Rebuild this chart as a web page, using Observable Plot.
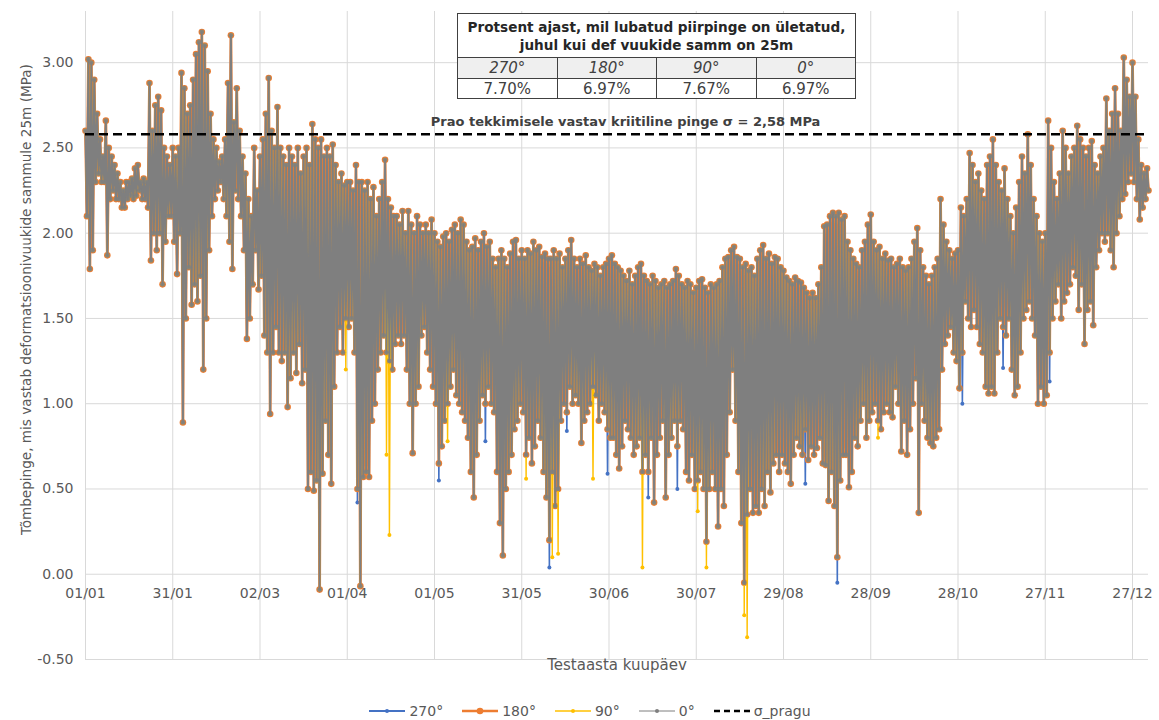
<!DOCTYPE html>
<html><head><meta charset="utf-8">
<script src="https://cdn.jsdelivr.net/npm/d3@7"></script>
<script src="https://cdn.jsdelivr.net/npm/@observablehq/plot@0.6"></script>
<style>
body{margin:0;background:#fff;font-family:"DejaVu Sans",Verdana,sans-serif;}
#wrap{position:relative;width:1159px;height:720px;overflow:hidden;}
#tbl{position:absolute;left:457px;top:13px;width:399px;border-collapse:collapse;color:#262626;background:#fff;}
#tbl td{border:1.5px solid #404040;text-align:center;padding:0;}
#tbl .ttl{font-weight:bold;font-size:13.6px;line-height:18px;height:43px;}
#tbl .hd td{background:#efefef;font-style:italic;font-size:15px;height:20px;line-height:19px;color:#404040;}
#tbl .vl td{font-size:15px;height:19px;line-height:18px;color:#404040;}
#legend{position:absolute;left:0;top:703px;width:1159px;display:flex;justify-content:center;gap:18px;font-size:14px;color:#595959;padding-left:20px;box-sizing:border-box;}
#legend .it{display:flex;align-items:center;gap:3px;}
</style></head><body><div id="wrap"></div><script>
// ---- data ----
const seriesNames = ["270°", "180°", "90°", "0°"];
const tablePct = ["7.70%", "6.97%", "7.67%", "6.97%"];
const tickDays = [0, 30, 60, 90, 120, 150, 180, 210, 240, 270, 300, 330, 360];
const tickLabels = ["01/01","31/01","02/03","01/04","01/05","31/05","30/06","30/07","29/08","28/09","28/10","27/11","27/12"];
const yTicks = [-0.5, 0, 0.5, 1, 1.5, 2, 2.5, 3];
const sigmaCrit = 2.58;
// daily maxima (day 0..365)
const hi = [2.6,3.02,3.0,2.9,2.7,2.55,2.45,2.66,2.5,2.45,2.4,
2.35,2.3,2.25,2.3,2.3,2.32,2.38,2.4,2.3,2.32,
2.3,2.88,2.6,2.75,2.8,2.72,2.5,2.45,2.4,2.5,
2.45,2.5,2.94,2.85,2.7,2.75,2.9,3.05,3.12,3.18,
3.1,2.95,2.7,2.55,2.5,2.42,2.45,2.55,2.88,3.16,
2.65,2.85,2.6,2.45,2.35,2.2,2.1,2.5,2.25,2.45,
2.55,2.7,2.91,2.6,2.5,2.74,2.5,2.45,2.4,2.5,
2.45,2.4,2.5,2.35,2.45,2.5,2.4,2.64,2.55,2.5,
2.55,2.45,2.5,2.45,2.52,2.4,2.3,2.35,2.28,2.3,
2.3,2.25,2.4,2.3,2.3,2.25,2.3,2.2,2.27,2.1,
2.2,2.3,2.43,2.2,2.15,2.1,2.1,2.05,2.13,2.0,
2.13,2.05,2.0,2.1,2.05,2.0,2.05,2.0,2.08,2.0,
1.95,1.92,1.98,2.0,1.95,2.02,2.05,2.0,2.08,2.05,
1.95,1.9,1.92,1.97,1.9,1.95,2.0,1.92,1.95,1.85,
1.8,1.85,1.9,1.85,1.8,1.88,1.95,1.96,1.85,1.9,
1.85,1.9,1.88,1.95,1.9,1.92,1.86,1.88,1.85,1.85,
1.9,1.85,1.88,1.8,1.85,1.9,1.96,1.85,1.8,1.85,
1.82,1.87,1.8,1.78,1.82,1.8,1.75,1.8,1.82,1.85,
1.87,1.82,1.8,1.78,1.75,1.72,1.78,1.7,1.75,1.8,
1.82,1.75,1.72,1.7,1.75,1.72,1.68,1.7,1.72,1.68,
1.7,1.72,1.79,1.75,1.7,1.68,1.72,1.7,1.65,1.68,
1.72,1.73,1.68,1.65,1.7,1.68,1.7,1.72,1.8,1.85,
1.86,1.9,1.92,1.86,1.85,1.8,1.82,1.78,1.8,1.75,
1.85,1.9,1.93,1.85,1.88,1.82,1.86,1.85,1.8,1.78,
1.74,1.72,1.7,1.74,1.72,1.71,1.68,1.65,1.62,1.65,
1.62,1.7,1.8,2.04,2.05,2.1,2.12,2.1,2.12,2.08,
2.1,1.95,1.9,1.85,1.82,1.8,1.9,1.95,2.05,2.11,
1.95,1.9,1.92,1.85,1.88,1.84,1.85,1.8,1.82,1.85,
1.8,1.78,1.8,1.85,1.95,2.03,1.9,1.8,1.75,1.7,
1.75,1.8,1.85,2.2,2.05,1.95,1.9,1.85,1.88,1.9,
2.15,2.1,2.2,2.47,2.4,2.3,2.35,2.25,2.2,2.4,
2.45,2.55,2.4,2.3,2.25,2.38,2.2,2.1,2.0,2.15,
2.3,2.45,2.35,2.58,2.4,2.2,2.1,2.0,1.95,2.0,
2.66,2.5,2.3,2.2,2.35,2.6,2.5,2.35,2.45,2.5,
2.63,2.55,2.5,2.45,2.5,2.54,2.4,2.35,2.45,2.5,
2.79,2.6,2.7,2.85,2.7,2.6,3.03,2.9,2.8,3.0,2.8,2.55,2.4,2.35,2.38];
// daily minima of 0° / 180° (day 0..365)
const lo = [2.1,1.79,1.9,2.3,2.35,2.3,2.3,1.87,2.2,2.25,2.2,
2.2,2.15,2.15,2.2,2.22,2.2,2.22,2.25,2.2,2.2,
2.15,1.84,2.0,1.9,2.0,1.7,1.95,2.1,2.1,1.95,
1.76,2.0,0.89,1.5,1.8,1.58,1.7,1.6,1.75,1.2,
1.5,1.9,2.1,2.2,2.25,2.3,2.2,2.1,1.95,1.79,
2.25,2.2,2.1,1.9,1.38,1.5,1.7,1.9,1.67,1.75,
1.4,1.3,0.94,1.3,1.45,1.3,1.25,1.3,0.98,1.15,
1.3,1.18,1.35,1.12,1.2,0.5,0.6,0.49,0.55,-0.09,
0.59,0.9,0.7,0.53,1.1,1.3,1.45,1.3,1.5,1.45,
1.5,1.3,0.5,-0.07,0.57,0.6,0.57,0.9,1.0,1.2,
1.3,1.4,1.3,1.25,1.2,1.35,1.4,1.35,1.4,1.2,
1.0,0.71,1.0,1.1,1.4,1.45,1.3,1.2,1.1,1.0,
0.65,0.75,0.9,1.0,1.1,1.2,1.05,1.0,0.95,0.9,
0.8,0.6,0.45,0.7,0.9,1.05,1.0,1.1,1.0,0.95,
0.6,0.3,0.11,0.5,0.6,0.7,0.85,0.9,1.0,0.95,
0.7,0.8,0.65,0.75,0.9,0.8,0.6,0.45,0.2,0.6,
0.4,0.5,0.9,1.0,0.95,1.1,1.0,1.05,1.0,0.77,
0.9,0.95,1.0,1.1,1.05,0.9,1.0,0.95,0.85,0.8,
0.8,0.7,0.62,0.75,0.9,0.85,0.8,0.7,0.75,0.8,
0.6,0.7,0.6,0.8,0.42,0.7,0.8,0.9,0.45,0.7,
0.8,0.9,0.75,0.9,0.85,0.6,0.55,0.7,0.5,0.55,
0.6,0.5,0.19,0.5,0.6,0.5,0.28,0.5,0.4,0.7,
0.95,1.2,0.9,0.6,0.3,-0.05,0.35,0.5,0.36,0.4,
0.36,0.5,0.4,0.6,0.48,0.65,0.7,0.6,0.7,0.65,
0.6,0.53,0.7,0.8,0.75,0.7,0.85,0.67,0.75,0.7,
0.74,0.8,0.65,0.64,0.43,0.6,0.4,0.1,0.55,0.7,
0.7,0.51,0.6,0.8,0.75,0.9,1.0,0.8,0.9,0.95,
1.0,0.9,0.85,0.95,1.0,0.95,0.92,1.1,1.0,0.72,
0.9,0.7,0.85,1.0,1.15,0.36,1.0,0.9,0.8,0.77,
0.75,0.8,0.85,1.2,1.35,1.4,1.45,1.3,1.25,1.09,
1.3,1.6,1.5,1.45,1.55,1.45,1.35,1.3,1.1,1.06,
1.1,1.06,1.3,1.5,1.45,1.4,1.5,1.2,1.05,1.1,
1.3,1.5,1.55,1.6,1.5,1.4,1.0,1.1,1.0,1.05,
1.3,1.5,1.6,1.7,1.5,1.6,1.65,1.7,1.8,1.75,
1.55,1.7,1.35,1.55,1.6,1.46,1.8,1.9,2.0,1.95,
2.0,1.9,1.8,2.0,2.1,2.2,2.23,2.3,2.35,2.3,2.2,2.08,2.15,2.2,2.25];
// days where 90° dips lower than the others [day, value]
const lo90 = [[89,1.2],[103,0.7],[104,0.23],[124,0.78],[151,0.56],[160,0.1],[162,0.12],[174,0.56],[191,0.04],[210,0.37],[213,0.04],[226,-0.24],[227,-0.37],[272,0.8]];
// days where 270° dips lower than the others [day, value]
const lo270 = [[93,0.42],[121,0.55],[137,0.78],[159,0.04],[165,0.84],[179,0.59],[193,0.45],[203,0.5],[247,0.53],[258,-0.05],[301,1.0],[315,1.21],[331,1.13]];

const colors = {"270°":"#4472C4","180°":"#ED7D31","90°":"#FFC000","0°":"#7F7F7F"};
const lineW = {"270°":1.6,"180°":2.8,"90°":1.4,"0°":2.0};
const dotR = {"270°":2.0,"180°":3.3,"90°":2.0,"0°":2.4};
const legW = {"270°":2,"180°":2.6,"90°":1.4,"0°":1};
const legR = {"270°":2,"180°":3.3,"90°":2,"0°":2};
const overrides = {"270°":lo270,"180°":[],"90°":lo90,"0°":[]};

function build(name){
  const m = new Map(overrides[name]);
  const out = [];
  for (let d = 0; d < hi.length; d++){
    out.push({s:name, t:d, v:hi[d]});
    out.push({s:name, t:d+0.5, v:m.has(d)?m.get(d):lo[d]});
  }
  return out;
}

const marks = [
  Plot.ruleY(yTicks, {stroke:"#d9d9d9", strokeWidth:1}),
  Plot.ruleX(tickDays, {y1:-0.5, y2:3.3, stroke:"#d9d9d9", strokeWidth:1}),
  Plot.axisY({ticks:yTicks, tickFormat:d=>d.toFixed(2), tickSize:0, tickPadding:12, fontSize:14, color:"#595959", label:null}),
  Plot.text(tickDays, {x:d=>d, y:0, text:(d,i)=>tickLabels[i], dy:19, fontSize:14, fill:"#595959"}),
];
for (const name of seriesNames){
  const data = build(name);
  marks.push(Plot.line(data, {x:"t", y:"v", stroke:colors[name], strokeWidth:lineW[name]}));
  marks.push(Plot.dot(data, {x:"t", y:"v", r:dotR[name], fill:colors[name], stroke:"none", fillOpacity: name === "0°" ? 0.9 : 1}));
}
marks.push(Plot.ruleY([sigmaCrit], {stroke:"#000", strokeWidth:2.5, strokeDasharray:"9,5"}));
marks.push(Plot.text(["Prao tekkimisele vastav kriitiline pinge σ = 2,58 MPa"], {x:185.7, y:sigmaCrit, dy:-12, fontWeight:"bold", fontSize:13, fill:"#404040"}));
marks.push(Plot.text(["Testaasta kuupäev"], {frameAnchor:"bottom", dy:10, fontSize:15, fill:"#595959"}));
marks.push(Plot.text(["Tõmbepinge, mis vastab deformatsioonivuukide sammule 25m (MPa)"], {frameAnchor:"top-left", dx:-64, dy:288, rotate:-90, textAnchor:"middle", fontSize:13.6, fill:"#595959"}));

const chart = Plot.plot({
  width:1159, height:690,
  marginLeft:85, marginRight:11, marginTop:11, marginBottom:31,
  style:{fontFamily:"DejaVu Sans, Verdana, sans-serif", background:"#fff"},
  x:{domain:[0,365.5], axis:null},
  y:{domain:[-0.5,3.3], axis:null},
  marks
});
const wrap = document.getElementById("wrap");
wrap.appendChild(chart);

// table
const tbl = document.createElement("table");
tbl.id = "tbl";
let html = '<tr><td colspan="4" class="ttl">Protsent ajast, mil lubatud piirpinge on ületatud,<br>juhul kui def vuukide samm on 25m</td></tr>';
html += '<tr class="hd">' + seriesNames.map(n=>`<td>${n}</td>`).join("") + '</tr>';
html += '<tr class="vl">' + tablePct.map(p=>`<td>${p}</td>`).join("") + '</tr>';
tbl.innerHTML = html;
wrap.appendChild(tbl);

// legend
const lg = document.createElement("div");
lg.id = "legend";
const items = seriesNames.map(n=>({n, c:colors[n], w:legW[n], r:legR[n], dash:null}));
items.push({n:"σ_pragu", c:"#000", w:2.5, r:0, dash:"6,4"});
lg.innerHTML = items.map(it=>`<span class="it"><svg width="38" height="10"><line x1="1" y1="5" x2="37" y2="5" stroke="${it.c}" stroke-width="${it.w}" ${it.dash?`stroke-dasharray="${it.dash}"`:""}/>${it.r?`<circle cx="19" cy="5" r="${it.r}" fill="${it.c}"/>`:""}</svg>${it.n}</span>`).join("");
wrap.appendChild(lg);
</script></body></html>
